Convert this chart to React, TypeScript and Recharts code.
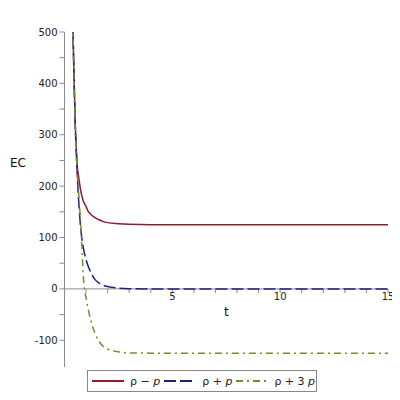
import React from 'react';
import { LineChart, Line, XAxis, YAxis, ReferenceLine, ReferenceDot } from 'recharts';

const tValues = [0.35, 0.4, 0.45, 0.5, 0.55, 0.6, 0.65, 0.7, 0.75, 0.8, 0.85, 0.9, 0.95, 1.0, 1.1, 1.2, 1.4, 1.6, 1.8, 2.0, 2.5, 3, 4, 5, 7, 10, 15];
const rhoMinusP = [610, 490, 400, 320, 270, 235, 220, 205, 192, 182, 174, 168, 164, 160, 151, 146, 139, 134.5, 131, 129, 127, 125.8, 125, 125, 125, 125, 125];
const rhoPlusP = [615, 490, 398, 318, 262, 215, 175, 145, 118, 100, 86, 74, 65, 57, 44, 34, 19, 11.5, 7, 4.5, 1.5, 0.5, 0, 0, 0, 0, 0];
const rhoPlus3P = [620, 490, 396, 315, 262, 220, 190, 160, 128, 88, 42, 10, -6, -18, -40, -58, -85, -102, -112, -117, -122.5, -124.5, -125, -125, -125, -125, -125];

const yTicks = [-100, -50, 0, 50, 100, 150, 200, 250, 300, 350, 400, 450, 500];
const xTicks = [1, 2, 3, 4, 5, 6, 7, 8, 9, 10, 11, 12, 13, 14, 15];
const xLabelTicks = [5, 10, 15];

const series = [
  { key: 'a', values: rhoMinusP, color: '#8c1c2e', dash: undefined as string | undefined, pre: 'ρ − ', it: 'p' },
  { key: 'b', values: rhoPlusP, color: '#1c2180', dash: '12 4', pre: 'ρ + ', it: 'p' },
  { key: 'c', values: rhoPlus3P, color: '#6f8f2a', dash: '7 4 2 4', pre: 'ρ + 3 ', it: 'p' },
];

const data = tValues.map((t, i) => {
  const row: Record<string, number> = { t };
  series.forEach((s) => { row[s.key] = s.values[i]; });
  return row;
});

const FONT = 'DejaVu Sans, sans-serif';
const AXIS = '#8a8a8a';

export default function App() {
  return (
    <div style={{ position: 'relative', width: 400, height: 400, fontFamily: FONT }}>
      <LineChart width={400} height={400} data={data} margin={{ top: 24, right: 20, left: 0, bottom: 41 }}>
        <XAxis type="number" dataKey="t" domain={[0, 15]} hide />
        <YAxis
          type="number"
          domain={[-152, 500]}
          allowDataOverflow
          ticks={yTicks}
          interval={0}
          width={56.5}
          stroke={AXIS}
          tickSize={5}
          tickFormatter={(v: number) => (v % 100 === 0 ? String(v) : '')}
          tick={{ fill: '#222', fontSize: 10, fontFamily: FONT }}
          label={{ value: 'EC', position: 'insideLeft', offset: 2, dy: -37, fill: '#111', fontSize: 12, fontFamily: FONT }}
        />
        <ReferenceLine y={0} stroke={AXIS} strokeWidth={1} />
        {xTicks.map((k) => (
          <ReferenceLine key={'xt' + k} segment={[{ x: k, y: 0 }, { x: k, y: -8 }]} stroke={AXIS} />
        ))}
        {xLabelTicks.map((k) => (
          <ReferenceDot key={'xl' + k} x={k} y={0} r={0} fill="none" stroke="none" ifOverflow="visible"
            label={{ value: String(k), position: 'bottom', offset: 4, fill: '#222', fontSize: 10, fontFamily: FONT }} />
        ))}
        <ReferenceDot x={7.5} y={0} r={0} fill="none" stroke="none"
          label={{ value: 't', position: 'bottom', offset: 19, fill: '#111', fontSize: 12, fontFamily: FONT }} />
        {series.map((s) => (
          <Line key={s.key} type="monotone" dataKey={s.key} stroke={s.color} strokeWidth={1.5}
            strokeDasharray={s.dash} dot={false} activeDot={false} isAnimationActive={false} />
        ))}
      </LineChart>
      <div style={{ position: 'absolute', left: 79, top: 362, width: 228, height: 20, border: '1px solid #888',
        display: 'flex', alignItems: 'center', fontSize: 11, color: '#222', boxSizing: 'content-box' }}>
        {series.map((s) => (
          <div key={s.key} style={{ display: 'flex', alignItems: 'center', marginLeft: 4 }}>
            <svg width={32} height={6}>
              <line x1={0} y1={3} x2={32} y2={3} stroke={s.color} strokeWidth={2} strokeDasharray={s.dash} />
            </svg>
            <span style={{ marginLeft: 6, whiteSpace: 'pre' }}>{s.pre}<i>{s.it}</i></span>
          </div>
        ))}
      </div>
    </div>
  );
}
